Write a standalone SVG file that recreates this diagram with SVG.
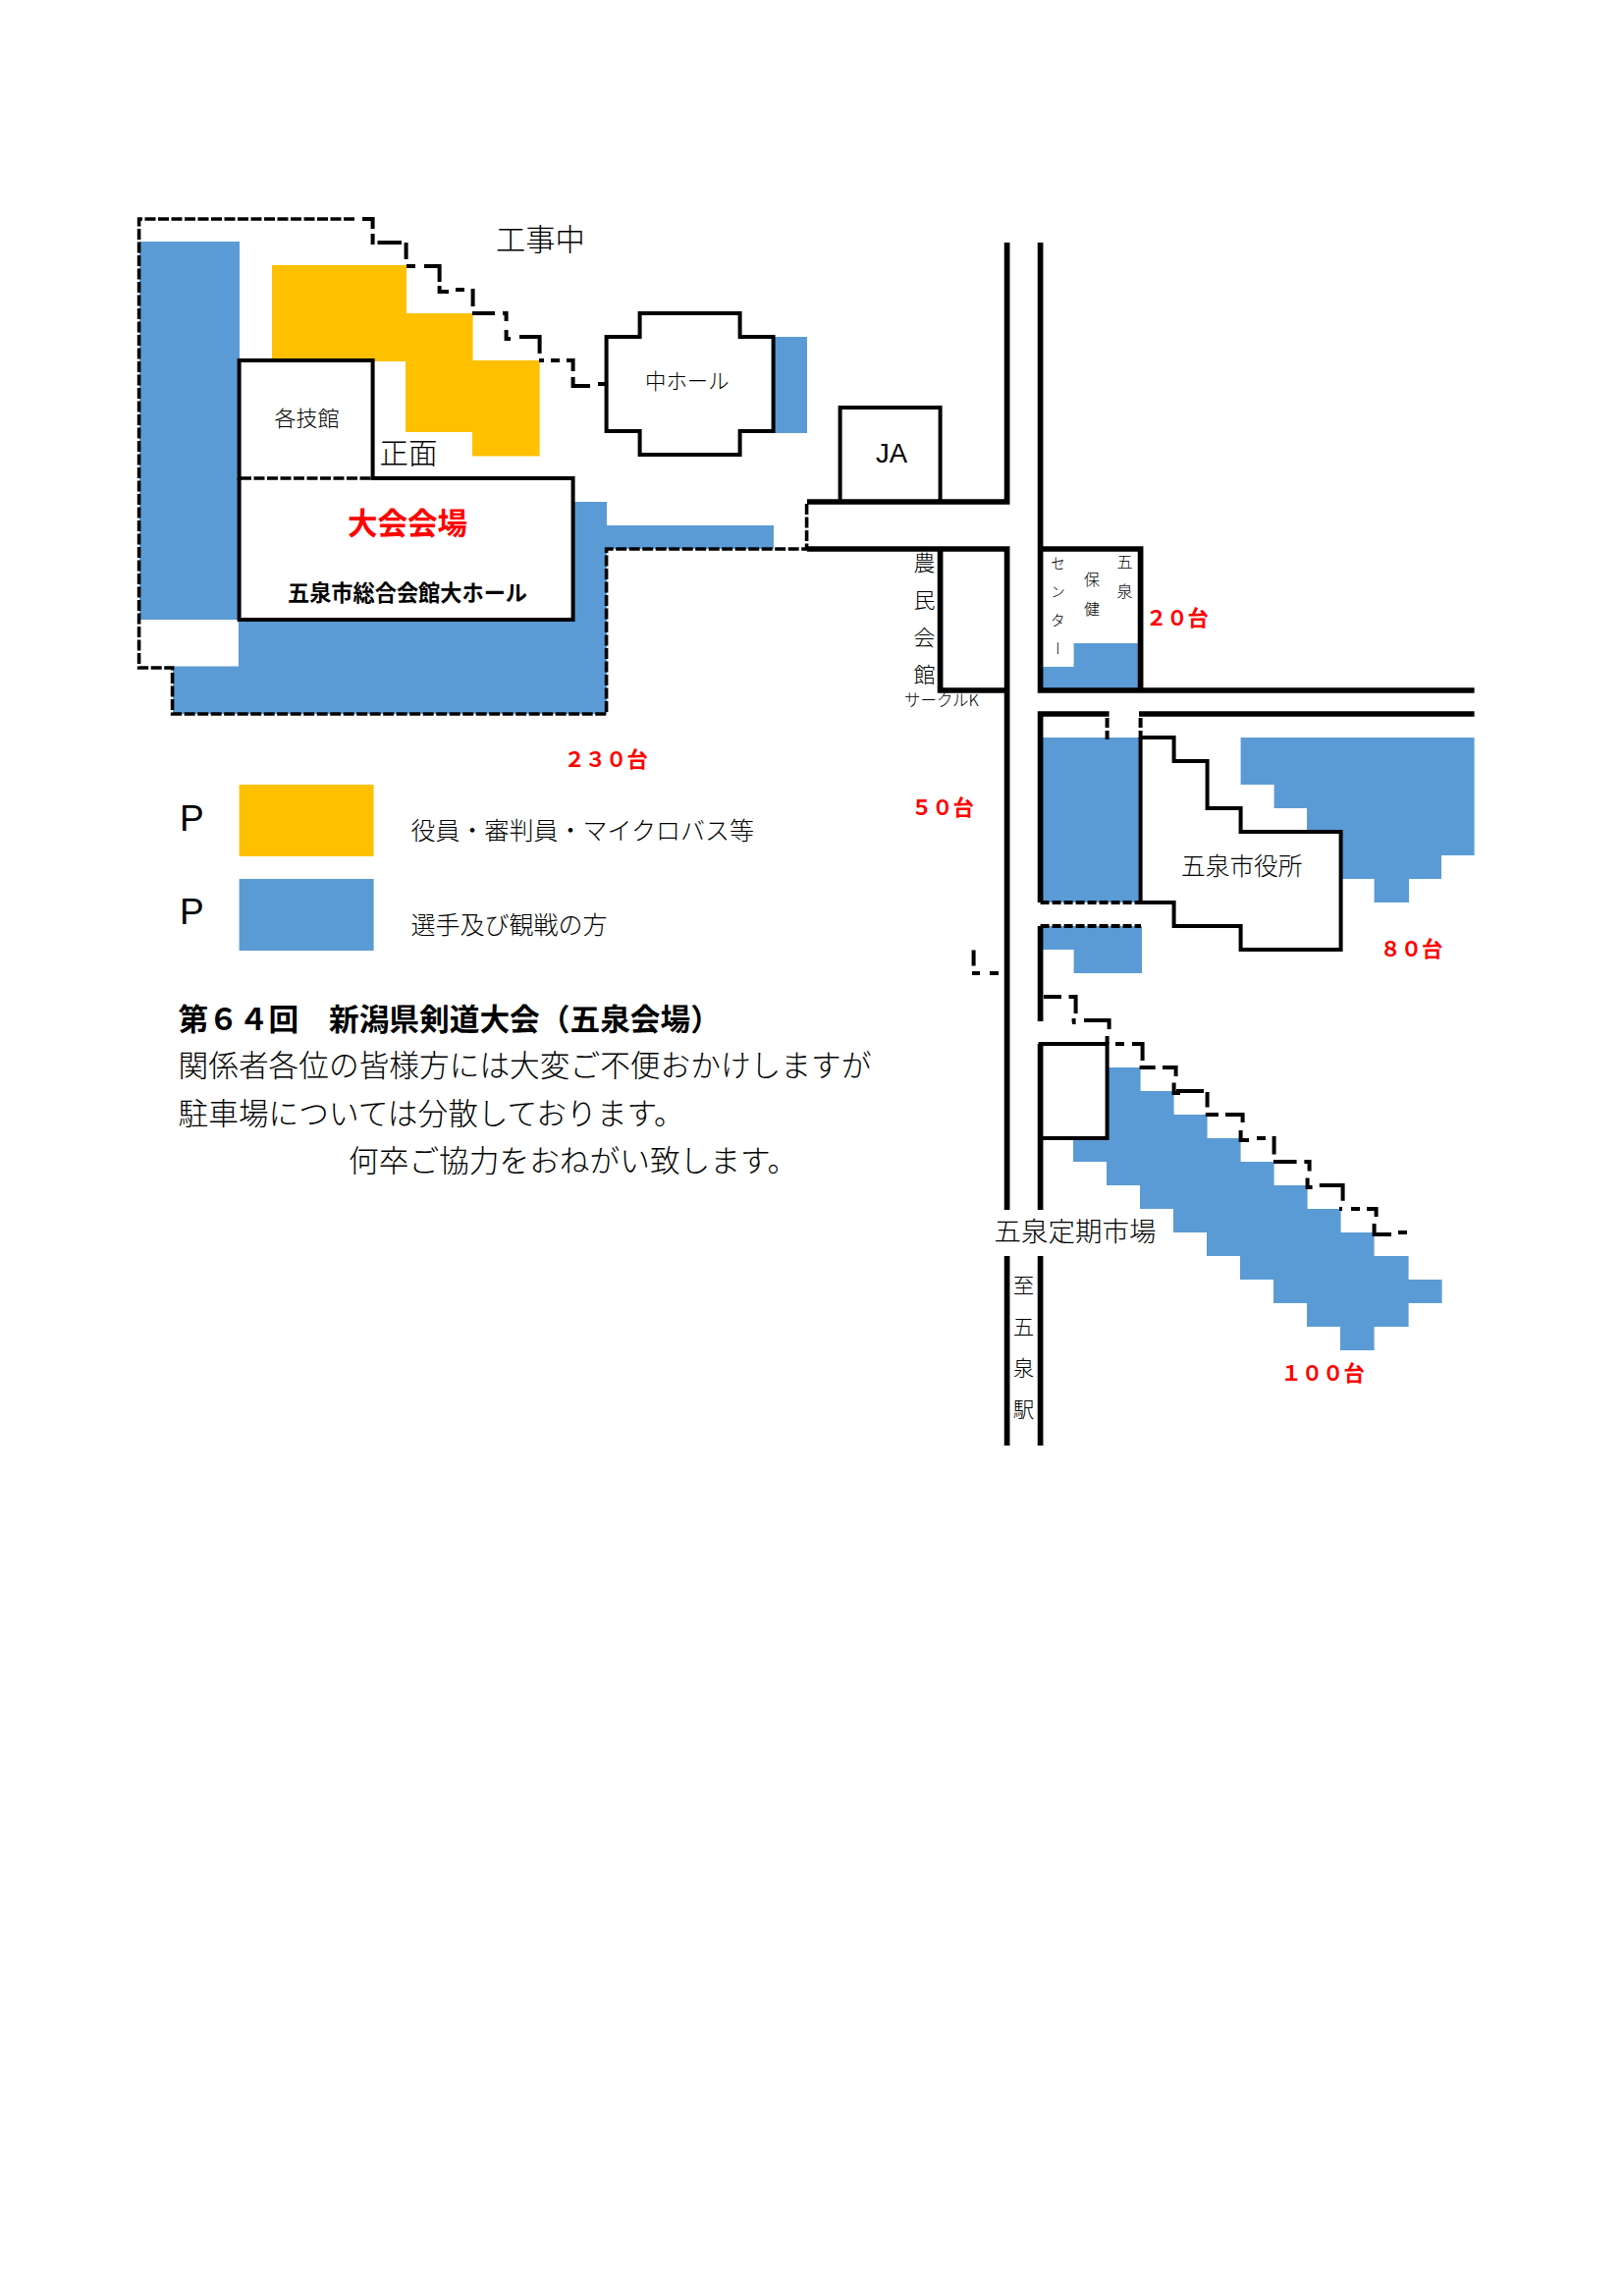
<svg xmlns="http://www.w3.org/2000/svg" width="1654" height="2338" viewBox="0 0 1654 2338">
<style>
text{font-family:"Noto Sans CJK JP","Liberation Sans",sans-serif;font-weight:300;fill:#000}
.lat{font-family:"Liberation Sans",sans-serif;font-weight:400}
.b{font-weight:700}
.r{font-weight:700;fill:#f00}
.v{writing-mode:vertical-rl}
.blue{fill:#5b9bd5}
.yel{fill:#ffc000}
.ln{fill:none;stroke:#000;stroke-width:4;stroke-linejoin:miter}
.road{fill:none;stroke:#000;stroke-width:5.7}
.stair{fill:none;stroke:#000;stroke-width:4}
.fine{fill:none;stroke:#000;stroke-width:3.6;stroke-dasharray:11 2.5}
</style>
<rect width="1654" height="2338" fill="#fff"/>
<g id="parking">
<rect class="blue" x="142" y="246" width="102" height="385"/>
<path class="blue" d="M584 511H618V535H788V559H618V727H176V678.5H243V631H584Z"/>
<rect class="blue" x="789" y="343" width="33" height="98"/>
<path class="yel" d="M277 270H414V319H481.6V367H549.6V464.5H481V440H413V368H277Z"/>
<path class="blue" d="M1093.6 655H1161V703H1062V679H1093.6Z"/>
<rect class="blue" x="1062" y="751" width="100" height="168"/>
<path class="blue" d="M1263.6 751H1501.6V871H1468V895H1435V919H1399.6V895H1367V847H1331V823H1297.6V799H1263.6Z"/>
<path class="blue" d="M1062 943H1163V991H1093.6V967H1062Z"/>
<path class="blue" d="M1128 1087H1161.6V1111H1195.6V1135H1229.6V1159H1263.6V1183H1297.6V1207H1331.6V1231H1365.6V1255H1399.6V1279H1434.6V1303H1468.6V1327H1434.6V1351H1399.6V1375H1365V1351H1331V1327H1297V1303H1263V1279H1229V1255H1195V1231H1161V1207H1127V1183H1093V1159H1128Z"/>
</g>
<g id="connectors">
<path class="road" d="M1025.6 247V511H822M822 559H1025.6V1232M1025.6 1279V1472"/>
<path class="road" d="M1059.6 247V703H1501.6M1059.6 1279V1472M1129.6 727H1059.6V919M1160 727H1501.6M1059.6 943V1040M1059.6 1063V1232"/>
<path class="fine" d="M361 223H141.6V680H175.6V727H617.6V559H821.6V511"/>
<path class="stair" d="M369 223H379.6V233M379.6 238V249M384.5 247H409M413.6 247V264M414 271H423M432 271H449.6M447.6 271V287M447.6 291V297H457M464 295H473M481.6 294V312M481 319H504M512 319H517.6M515.6 319V327M515.6 336V345H520M529 343H551.6M549.6 343V360M549 367H554M561 367H570M577 367H585.6M583.6 367V378M583.6 384V393H601M609 391H617"/>
<path class="stair" stroke-dasharray="9 3" d="M1059.6 919H1161.6M1059.6 943H1162"/>
<path class="stair" d="M1127.6 731V741M1127.6 744V753M1161.6 731V741M1161.6 744V753"/>
<path class="stair" d="M991.6 967.5V983.5M990 991H998M1008 991H1017"/>
<path class="stair" d="M1063 1015H1081M1088.5 1015H1095.6V1032M1093.6 1037V1041H1092M1104 1039H1129.6V1048M1127.6 1055V1063M1136 1063H1145M1153 1063H1163.6V1080M1160.6 1087H1176.7M1184 1087H1197.6V1096M1195.6 1102.4V1113H1200V1111H1226M1229.6 1112V1127.4M1227.8 1135H1241M1248 1135H1265.6V1143M1263.6 1151V1161H1272M1280 1159H1289M1297.6 1157V1175.6M1297 1183H1320.6M1328.4 1183H1333.6V1192.4M1331.6 1199.5V1209H1336.6M1343.8 1207H1367.6V1222.7M1364 1231H1367M1376 1231H1385M1392 1231H1401.6V1239M1399.6 1246V1257H1417M1424 1255H1433"/>
</g>
<g id="kakugikan">
<path class="ln" d="M243.6 489V367H379.6V489"/>
<path class="fine" stroke-width="4" d="M245 487H380"/>
<text x="279.5" y="433.5" font-size="22">各技館</text>
</g>
<g id="main-hall">
<path class="ln" d="M379 487H583.6V631H243.6V487"/>
<text class="r" x="354" y="544" font-size="30.5">大会会場</text>
<text class="b" x="293" y="612" font-size="22.2">五泉市総合会館大ホール</text>
</g>
<g id="naka-hall">
<path class="ln" d="M651.6 319H753.6V343H787.6V439H753.6V463H651.6V439H617.6V343H651.6Z"/>
<text x="657" y="395.5" font-size="21.4">中ホール</text>
</g>
<g id="ja">
<path class="ln" d="M855.6 513V415H957.6V513"/>
<text class="lat" x="892" y="471" font-size="27.5">JA</text>
</g>
<g id="nomin">
<path class="road" d="M957.6 559V703H1025.6"/>
<text class="v" x="941.4" y="562" font-size="22" letter-spacing="16">農民会館</text>
<text x="921" y="719" font-size="16.5">サークルK</text>
</g>
<g id="hoken">
<path class="road" d="M1059.6 559H1161.6V703"/>
<text class="v" x="1145.5" y="564" font-size="16" letter-spacing="14">五泉</text>
<text class="v" x="1112" y="582" font-size="16" letter-spacing="14">保健</text>
<text class="v" x="1077.5" y="566" font-size="15" letter-spacing="14">センター</text>
</g>
<g id="city-hall">
<path class="ln" d="M1161.6 751V921"/>
<path class="ln" d="M1161.6 751H1195.6V775H1229.6V823H1263.6V847H1365.6V967H1263.6V943H1195.6V919H1161.6"/>
<text x="1203" y="891" font-size="24.7">五泉市役所</text>
</g>
<g id="teiki">
<rect class="ln" x="1059.6" y="1063" width="68" height="96"/>
<text x="1012.5" y="1264" font-size="27.5">五泉定期市場</text>
<text class="v" x="1042.5" y="1298" font-size="21.5" letter-spacing="20.5">至五泉駅</text>
</g>
<g id="labels">
<text x="505" y="255" font-size="30.3">工事中</text>
<text x="386.5" y="471.5" font-size="29.5">正面</text>
<text class="r" x="574.5" y="780.5" font-size="21.3">２３０台</text>
<text class="r" x="1167" y="636.5" font-size="21.3">２０台</text>
<text class="r" x="928" y="829.5" font-size="21.3">５０台</text>
<text class="r" x="1405.5" y="974" font-size="21.3">８０台</text>
<text class="r" x="1304.5" y="1405.5" font-size="21.3">１００台</text>
</g>
<g id="legend">
<rect class="yel" x="243.6" y="799" width="137" height="73"/>
<rect class="blue" x="243.6" y="895" width="137" height="73"/>
<text class="lat" x="183" y="846" font-size="37">P</text>
<text class="lat" x="183" y="941" font-size="37">P</text>
<text x="418.5" y="854.5" font-size="25">役員・審判員・マイクロバス等</text>
<text x="418.5" y="951" font-size="25">選手及び観戦の方</text>
</g>
<g id="notice">
<text class="b" x="181.5" y="1049" font-size="30.7">第６４回　新潟県剣道大会（五泉会場）</text>
<text x="181.5" y="1096" font-size="30.7">関係者各位の皆様方には大変ご不便おかけしますが</text>
<text x="181.5" y="1145" font-size="30.7">駐車場については分散しております。</text>
<text x="355" y="1193" font-size="30.7">何卒ご協力をおねがい致します。</text>
</g>
</svg>
